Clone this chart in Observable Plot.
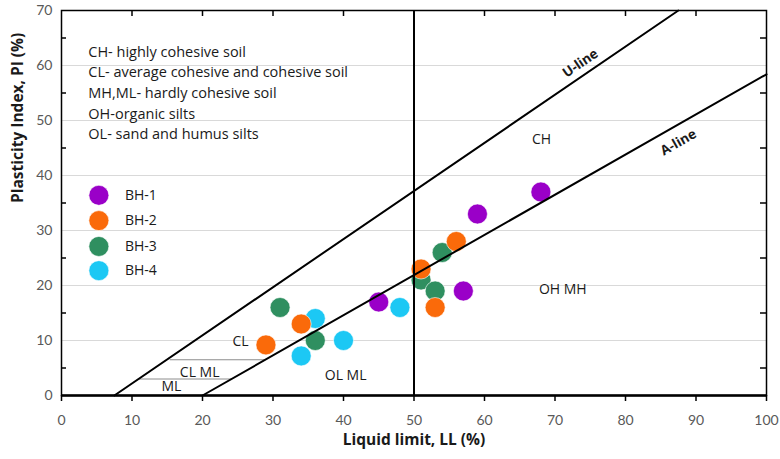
<!DOCTYPE html>
<html><head><meta charset="utf-8">
<script src="https://cdn.jsdelivr.net/npm/d3@7"></script>
<script src="https://cdn.jsdelivr.net/npm/@observablehq/plot@0.6"></script>
<style>body{margin:0;background:#fff;} #chart{width:780px;height:459px;}</style>
</head><body><div id="chart"></div>
<script>
// ---- data ----
const seriesNames = ["BH-1", "BH-2", "BH-3", "BH-4"];
const seriesColors = ["#9A00C8", "#FA6A0A", "#2F8F60", "#1CC8F4"];
const bh1LL = [45, 57, 59, 68];
const bh1PI = [17, 19, 33, 37];
const bh2LL = [29, 34, 51, 53, 56];
const bh2PI = [9.2, 13, 23, 16, 28];
const bh3LL = [31, 36, 51, 53, 54];
const bh3PI = [16, 10, 21, 19, 26];
const bh4LL = [34, 36, 40, 48];
const bh4PI = [7.2, 14, 10, 16];

const xTicks = [0, 10, 20, 30, 40, 50, 60, 70, 80, 90, 100];
const yTicks = [0, 10, 20, 30, 40, 50, 60, 70];
const yGrid = [10, 20, 30, 40, 50, 60];
const topTicks = [10, 20, 30, 40, 50, 60, 70, 80, 90];
const sideTicks = [5, 15, 25, 35, 45, 55, 65];

// reference lines (end points)
const uLineLL = [7.5, 87.5], uLinePI = [0, 70];
const aLineLL = [20, 100], aLinePI = [0, 58.4];
const dividerLL = [50];
const clmlUpperLL = [15.4, 28.9], clmlUpperPI = [6.5, 6.5];
const clmlLowerLL = [10.9, 24.1], clmlLowerPI = [3, 3];

// zone labels
const zoneText = ["CH", "CL", "CL ML", "ML", "OL ML", "OH MH"];
const zoneLL = [68.1, 25.4, 19.6, 15.6, 40.3, 71.1];
const zonePI = [46.5, 9.8, 4.1, 1.6, 3.6, 19.3];

// description block
const noteText = [
  "CH- highly cohesive soil",
  "CL- average cohesive and cohesive soil",
  "MH,ML- hardly cohesive soil",
  "OH-organic silts",
  "OL- sand and humus silts"
];
const noteLL = [3.8, 3.8, 3.8, 3.8, 3.8];
const notePI = [62.4, 58.7, 54.9, 51.2, 47.5];

// in-plot legend positions
const legendLL = [5.3, 5.3, 5.3, 5.3];
const legendTextLL = [9.0, 9.0, 9.0, 9.0];
const legendPI = [36.4, 31.8, 27.1, 22.7];

const xTitle = "Liquid limit, LL (%)";
const yTitle = "Plasticity Index, PI (%)";

// ---- build tables ----
const pts = [];
[[bh1LL, bh1PI], [bh2LL, bh2PI], [bh3LL, bh3PI], [bh4LL, bh4PI]].forEach(([xs, ys], i) => {
  xs.forEach((v, j) => pts.push({series: seriesNames[i], ll: v, pi: ys[j]}));
});
// draw order: green, cyan, orange, purple
const drawOrder = ["BH-3", "BH-4", "BH-2", "BH-1"];
pts.sort((a, b) => drawOrder.indexOf(a.series) - drawOrder.indexOf(b.series));

const seg = (xs, ys) => xs.map((v, i) => ({ll: v, pi: ys[i]}));
const notes = noteText.map((t, i) => ({t, ll: noteLL[i], pi: notePI[i]}));
const zones = zoneText.map((t, i) => ({t, ll: zoneLL[i], pi: zonePI[i]}));
const legend = seriesNames.map((s, i) => ({s, ll: legendLL[i], tl: legendTextLL[i], pi: legendPI[i]}));

const W = 780, H = 459, mL = 61, mR = 14, mT = 10, mB = 64;
const plotW = W - mL - mR, plotH = H - mT - mB;
const font = "Lato, 'Open Sans', sans-serif";
const font2 = "'Open Sans', Lato, sans-serif";

const chart = Plot.plot({
  width: W, height: H,
  marginLeft: mL, marginRight: mR, marginTop: mT, marginBottom: mB,
  style: {fontFamily: font, background: "#fff"},
  x: {domain: [0, 100]},
  y: {domain: [0, 70]},
  color: {domain: seriesNames, range: seriesColors},
  marks: [
    Plot.gridY(yGrid, {stroke: "#d9d9d9", strokeOpacity: 1, strokeWidth: 1}),
    Plot.axisX(xTicks, {tickSize: 6, tickPadding: 14, fontSize: 14, fill: "#595959", stroke: "#000", strokeWidth: 1.5, label: null}),
    Plot.axisY(yTicks, {tickSize: 0, tickPadding: 9, fontSize: 14, fill: "#595959", label: null}),
    Plot.tickX(topTicks, {x: d => d, insetBottom: plotH - 6, stroke: "#000", strokeWidth: 1.5}),
    Plot.tickY(sideTicks, {y: d => d, insetRight: plotW - 5, stroke: "#000", strokeWidth: 1.5}),
    Plot.tickY(sideTicks, {y: d => d, insetLeft: plotW - 6, stroke: "#000", strokeWidth: 1.5}),
    // data points
    Plot.dot(pts, {x: "ll", y: "pi", fill: "series", r: 10, stroke: "#fff", strokeWidth: 0.6}),
    // reference lines
    Plot.line(seg(clmlUpperLL, clmlUpperPI), {x: "ll", y: "pi", stroke: "#8c8c8c", strokeWidth: 1}),
    Plot.line(seg(clmlLowerLL, clmlLowerPI), {x: "ll", y: "pi", stroke: "#8c8c8c", strokeWidth: 1}),
    Plot.line(seg(uLineLL, uLinePI), {x: "ll", y: "pi", stroke: "#000", strokeWidth: 2}),
    Plot.line(seg(aLineLL, aLinePI), {x: "ll", y: "pi", stroke: "#000", strokeWidth: 2}),
    Plot.ruleX(dividerLL, {stroke: "#000", strokeWidth: 2}),
    Plot.ruleY([0], {stroke: "#000", strokeWidth: 2.5}),
    Plot.frame({stroke: "#000", strokeWidth: 1.5}),
    // annotations
    Plot.text(notes, {x: "ll", y: "pi", text: "t", textAnchor: "start", fontSize: 14.5, fontFamily: font2, fill: "#1a1a1a"}),
    Plot.text(zones, {x: "ll", y: "pi", text: "t", fontSize: 14, fontFamily: font2, fill: "#1a1a1a"}),
    Plot.text(["U-line"], {x: () => 73.6, y: () => 60.4, text: d => d, rotate: -34.3, fontSize: 13.5, fontFamily: font2, fontWeight: "bold", fill: "#1a1a1a"}),
    Plot.text(["A-line"], {x: () => 87.5, y: () => 46, text: d => d, rotate: -29.7, fontSize: 13.5, fontFamily: font2, fontWeight: "bold", fill: "#1a1a1a"}),
    // legend
    Plot.dot(legend, {x: "ll", y: "pi", fill: "s", r: 10, stroke: "#fff", strokeWidth: 0.6}),
    Plot.text(legend, {x: "tl", y: "pi", text: "s", textAnchor: "start", fontSize: 14, fontFamily: font2, fill: "#1a1a1a"}),
    // axis titles
    Plot.text([xTitle], {frameAnchor: "bottom", dy: 49, text: d => d, fontSize: 15.5, fontFamily: font2, fontWeight: "bold", fill: "#1a1a1a"}),
    Plot.text([yTitle], {frameAnchor: "left", dx: -43, rotate: -90, text: d => d, fontSize: 15.5, fontFamily: font2, fontWeight: "bold", fill: "#1a1a1a"})
  ]
});
document.getElementById("chart").appendChild(chart);
</script>
</body></html>
